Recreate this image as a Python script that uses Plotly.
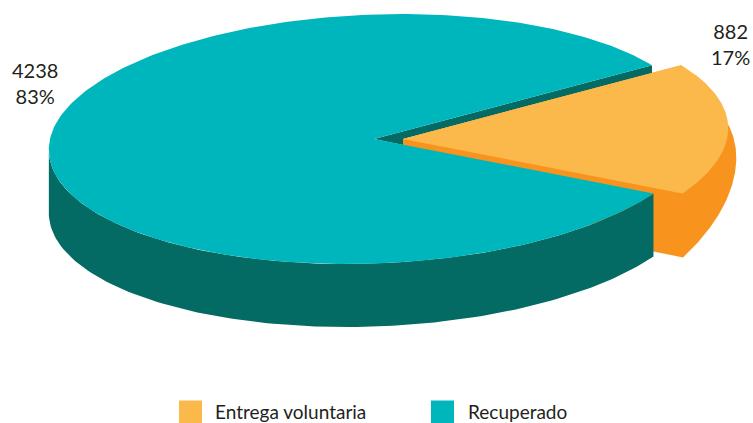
import numpy as np
import plotly.graph_objects as go

categories = ["Entrega voluntaria", "Recuperado"]
values = [882, 4238]
percents = [17, 83]
light = ["#FBB84B", "#00B6BD"]
dark = ["#F8941D", "#036B63"]

CX, CY, A, B, S = 374, 139, 324, 125, 28
DEPTH = 63
EXPLODE = 29
FONT = "Lato, sans-serif"
TEXT = "#231F20"

total = sum(values)
span = 360 * values[0] / total
t_hi = 36.2
t_lo = t_hi - span


def arc(t1, t2, cx=CX, cy=CY, a=A, s=S, n=120):
    t = np.radians(np.linspace(t1, t2, n))
    return cx + a * np.cos(t) + s * np.sin(t), cy - B * np.sin(t)


def poly(fig, xs, ys, color):
    fig.add_trace(go.Scatter(x=list(xs), y=list(ys), mode="lines", fill="toself",
                             fillcolor=color, line=dict(width=0, color=color),
                             hoverinfo="skip", showlegend=False))


fig = go.Figure()
tx, ty = arc(t_lo, t_hi)  # slice rim before it is moved out
sx, sy = tx + EXPLODE, ty
hi = (tx[-1], ty[-1])
lo = (tx[0], ty[0])

# dark inner wall of the main sector
poly(fig, [CX, hi[0], hi[0], CX + EXPLODE, CX + EXPLODE],
     [CY, hi[1], hi[1] + 8, CY, CY + 6], dark[1])

# slice wall (lower rim curves outward)
wx, wy = arc(t_lo, t_hi + 2, cx=568, cy=CY + DEPTH + 1, a=157, s=60.6)
poly(fig,
     [CX + EXPLODE, CX + EXPLODE, lo[0], *wx, sx[-1]],
     [CY, CY + 6, lo[1] + 58, *wy, sy[-1]], dark[0])
# slice top
poly(fig, [CX + EXPLODE, *sx], [CY, *sy], light[0])

# main sector wall
bx, by = arc(t_lo, -180 + 6)
tlx, tly = arc(-180 + 6, t_lo)
poly(fig, [*bx, *tlx], [*(by + DEPTH), *tly], dark[1])
# main sector top
mx, my = arc(t_hi, t_lo + 360, n=300)
poly(fig, [CX, *mx], [CY, *my], light[1])

# legend swatches and labels
leg_sq_x = [190.5, 442.5]
leg_txt_x = [213, 466]
for i, c in enumerate(categories):
    fig.add_trace(go.Scatter(x=[leg_sq_x[i]], y=[412], mode="markers", name=c,
                             marker=dict(symbol="square", size=23, color=light[i]),
                             cliponaxis=False, showlegend=False, hoverinfo="skip"))
    fig.add_annotation(x=leg_txt_x[i], y=411, text=c, showarrow=False, xanchor="left",
                       yanchor="middle", font=dict(family=FONT, size=19, color=TEXT))

label_x = [730, 35]
label_y = [44, 83]
for i in range(2):
    fig.add_annotation(x=label_x[i], y=label_y[i],
                       text=f"{values[i]}<br>{percents[i]}%", showarrow=False,
                       font=dict(family=FONT, size=20, color=TEXT), align="center")

fig.update_xaxes(range=[0, 753], visible=False, fixedrange=True)
fig.update_yaxes(range=[423, 0], visible=False, fixedrange=True)
fig.update_layout(width=753, height=423, margin=dict(l=0, r=0, t=0, b=0),
                  paper_bgcolor="white", plot_bgcolor="white", showlegend=False)
fig.write_html("out.html", config={"displayModeBar": False},
               post_script="document.body.style.margin='0';document.documentElement.style.overflow='hidden';")
